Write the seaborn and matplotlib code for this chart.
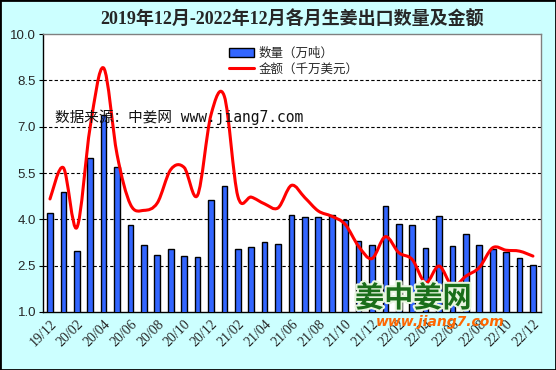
import numpy as np
import pandas as pd
import matplotlib
matplotlib.use("Agg")
import matplotlib.pyplot as plt
import matplotlib.patheffects as pe
import seaborn as sns
from matplotlib.path import Path
from matplotlib.patches import PathPatch, Patch
from matplotlib.lines import Line2D

# ------------------------ 数据 ------------------------
months = ["19/12"] + [f"{y}/{m:02d}" for y in (20, 21, 22) for m in range(1, 13)]

quantity = [4.21, 4.89, 2.99, 5.99, 7.38, 5.71, 3.82, 3.18, 2.85, 3.05, 2.82, 2.79,
            4.63, 5.09, 3.05, 3.11, 3.28, 3.21, 4.15, 4.08, 4.08, 4.15, 3.98, 3.31,
            3.18, 4.44, 3.86, 3.82, 3.08, 4.11, 3.14, 3.53, 3.18, 3.05, 2.95, 2.76, 2.53]

amount = [4.66, 5.67, 3.73, 7.00, 8.90, 6.10, 4.48, 4.29, 4.53, 5.61, 5.68, 4.78,
          7.38, 7.98, 4.75, 4.72, 4.50, 4.37, 5.10, 4.70, 4.27, 4.10, 3.84, 3.13,
          2.73, 3.44, 2.92, 2.70, 1.95, 2.49, 1.84, 2.16, 2.44, 3.08, 3.00, 2.97, 2.81]

yticks = [1.0, 2.5, 4.0, 5.5, 7.0, 8.5, 10.0]

BAR_COLOR = "#3366FF"
BG = "#CCFFFF"
CJK = ["Noto Sans CJK SC", "DejaVu Sans"]

df = pd.DataFrame({"month": months, "quantity": quantity, "amount": amount})

# ------------------------ 画布 ------------------------
sns.set_style("white")
plt.rcParams["font.family"] = CJK

fig = plt.figure(figsize=(5.56, 3.70), dpi=100, facecolor=BG)
ax = fig.add_axes([43 / 556, 1 - 312 / 370, 498 / 556, 278 / 370])
ax.set_facecolor("white")

# 柱状图：数量
sns.barplot(data=df, x="month", y="quantity", color=BAR_COLOR, saturation=1,
            width=0.42, edgecolor="black", linewidth=1, ax=ax, zorder=3)

# 平滑曲线：金额（Excel 式贝塞尔平滑）
xs = np.arange(len(amount), dtype=float)
ys = np.asarray(amount, dtype=float)
verts = [(xs[0], ys[0])]
codes = [Path.MOVETO]
n = len(xs)
for i in range(n - 1):
    p0 = (xs[max(i - 1, 0)], ys[max(i - 1, 0)])
    p1 = (xs[i], ys[i])
    p2 = (xs[i + 1], ys[i + 1])
    p3 = (xs[min(i + 2, n - 1)], ys[min(i + 2, n - 1)])
    c1 = (p1[0] + (p2[0] - p0[0]) / 6, p1[1] + (p2[1] - p0[1]) / 6)
    c2 = (p2[0] - (p3[0] - p1[0]) / 6, p2[1] - (p3[1] - p1[1]) / 6)
    verts += [c1, c2, p2]
    codes += [Path.CURVE4] * 3
ax.add_patch(PathPatch(Path(verts, codes), facecolor="none", edgecolor="#FF0000",
                       lw=2.2, zorder=4, capstyle="round", joinstyle="round"))

# ------------------------ 坐标轴 ------------------------
ax.set_ylim(1.0, 10.0)
ax.set_xlim(-0.52, len(months) - 0.4)
ax.set_yticks(yticks)
ax.set_yticklabels([f"{v:.1f}" for v in yticks], family="Liberation Sans", fontsize=9.5)
ax.set_xticks(range(0, len(months), 2))
ax.set_xticklabels(months[::2], rotation=45, ha="right", rotation_mode="anchor",
                   family="Liberation Serif", fontsize=10)
ax.set_xlabel("")
ax.set_ylabel("")
ax.tick_params(axis="y", length=3, width=0.8, color="black", pad=2, left=True)
ax.tick_params(axis="x", length=0, pad=4)

for v in yticks[1:-1]:
    ax.axhline(v, color="black", lw=0.8, ls=(0, (3, 2)), zorder=2)

for side in ("left", "bottom"):
    ax.spines[side].set_color("black")
    ax.spines[side].set_linewidth(1)
for side in ("top", "right"):
    ax.spines[side].set_color("#808080")
    ax.spines[side].set_linewidth(1)

# ------------------------ 图例 ------------------------
handles = [Patch(facecolor=BAR_COLOR, edgecolor="black", lw=1),
           Line2D([], [], color="#FF0000", lw=2.2)]
ax.legend(handles, ["数量（万吨）", "金额（千万美元）"], loc="upper left",
          bbox_to_anchor=(0.355, 0.985), frameon=False, fontsize=9,
          handlelength=2.0, handleheight=0.8, handletextpad=0.4, labelspacing=0.25,
          borderpad=0.2)

# ------------------------ 文字 ------------------------
fig.text(292 / 556, 1 - 20 / 370, "2019年12月-2022年12月各月生姜出口数量及金额",
         ha="center", va="center", fontsize=13, fontweight="bold",
         family=["Liberation Serif", "Noto Sans CJK SC"])

ax.text(0.025, 0.70, "数据来源：中姜网 www.jiang7.com", transform=ax.transAxes,
        ha="left", va="center", fontsize=10.5, color="#111111",
        family=["DejaVu Sans Mono", "Noto Sans CJK SC"], zorder=5)

fig.text(355 / 556, 1 - 298 / 370, "姜中姜网", ha="left", va="center", fontsize=21,
         fontweight="bold", color="#1A6E1A", family=CJK, zorder=6,
         path_effects=[pe.withStroke(linewidth=3, foreground="#E8F5E0")])
fig.text(440 / 556, 1 - 322 / 370, "www.jiang7.com", ha="center", va="center",
         fontsize=10, fontweight="bold", style="italic", color="#FF6600",
         family="DejaVu Sans", zorder=6)

# 外框
fig.patches.append(matplotlib.patches.Rectangle((0, 0), 1, 1, transform=fig.transFigure,
                                                fill=False, edgecolor="black", lw=2))

fig.savefig("out.png", dpi=100, facecolor=BG)
